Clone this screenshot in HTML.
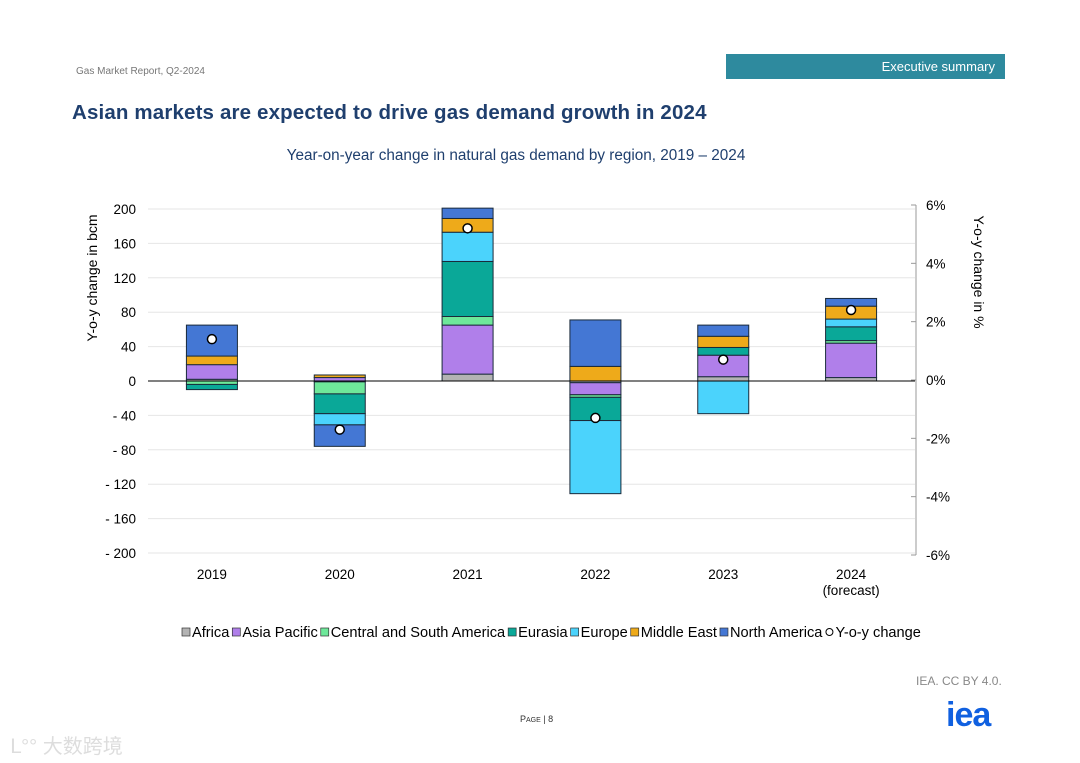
<!DOCTYPE html>
<html><head><meta charset="utf-8"><style>
body{margin:0;width:1080px;height:763px;background:#fff;font-family:"Liberation Sans","Noto Sans CJK SC",sans-serif;position:relative;overflow:hidden}
.a{position:absolute}
</style></head><body>
<div class="a" style="left:76px;top:66px;font-size:10px;color:#777">Gas Market Report, Q2-2024</div>
<div class="a" style="left:726px;top:54px;width:279px;height:25px;background:#2e8a9e;color:#fff;font-size:13px;line-height:25px;text-align:right;box-sizing:border-box;padding-right:10px">Executive summary</div>
<div class="a" style="left:72px;top:101px;font-size:20.5px;font-weight:bold;color:#1f3f6e;letter-spacing:0.15px">Asian markets are expected to drive gas demand growth in 2024</div>
<div class="a" style="left:0;width:1032px;top:147px;text-align:center;font-size:15.3px;color:#1f3f6e">Year-on-year change in natural gas demand by region, 2019 – 2024</div>
<svg class="a" id="chart" style="left:0;top:0" width="1080" height="763"></svg>
<div class="a" style="left:916px;top:674px;font-size:12px;color:#888">IEA. CC BY 4.0.</div>
<div class="a" style="left:520px;top:714px;font-size:9px;color:#333">P<span style="font-size:7px">AGE</span> | 8</div>
<div class="a" style="left:946px;top:696px;font-size:34px;font-weight:bold;color:#1060e0;letter-spacing:-1px">iea</div>
<div class="a" style="left:10px;top:730px;font-size:20px;color:#ddd">ᒪ°° 大数跨境</div>
<script>
const categories=["2019","2020","2021","2022","2023","2024"];
const series=["Africa","Asia Pacific","Central and South America","Eurasia","Europe","Middle East","North America"];
const colors=["#b3b3b3","#b07fea","#6ee89a","#0aa898","#4bd3fc","#eeaa1a","#4477d4"];
const africa=[2,-1,8,-2,5,4];
const asiaPacific=[17,4,57,-14,25,40];
const csAmerica=[-4,-14,10,-3,0,3];
const eurasia=[-6,-23,64,-27,9,16];
const europe=[0,-13,34,-85,-38,9];
const middleEast=[10,3,16,17,13,15];
const northAmerica=[36,-25,12,54,13,9];
const yoy=[1.4,-1.7,5.2,-1.3,0.7,2.4];
const leftTicks=[200,160,120,80,40,0,-40,-80,-120,-160,-200];
const rightTicks=[6,4,2,0,-2,-4,-6];
const data=[africa,asiaPacific,csAmerica,eurasia,europe,middleEast,northAmerica];
const svg=document.getElementById('chart');const NS='http://www.w3.org/2000/svg';
function mk(t,a,p){const e=document.createElementNS(NS,t);for(const k in a)e.setAttribute(k,a[k]);(p||svg).appendChild(e);return e;}
const x0=148,x1=915,y0=209,yb=554;
const Y=v=>381-(v/200)*(381-y0);
const Yr=v=>380-(v/6)*(380-205);
const X=i=>x0+(x1-x0)/categories.length*(i+0.5);
const bw=51;
leftTicks.forEach(t=>{const l=mk('line',{x1:x0,x2:x1,y1:Y(t),y2:Y(t),stroke:'#e6e6e6'});

const tx=mk('text',{x:136,y:Y(t)+5,'text-anchor':'end','font-size':13.5,fill:'#000'});tx.textContent=t<0?'- '+(-t):t;
});
mk('line',{x1:916,x2:916,y1:205,y2:555,stroke:'#999'});
rightTicks.forEach(t=>{mk('line',{x1:911,x2:916,y1:Yr(t),y2:Yr(t),stroke:'#999'});
const tx=mk('text',{x:926,y:Yr(t)+5,'font-size':13.5});tx.textContent=t+'%';
});
categories.forEach((c,i)=>{let pos=0,neg=0;
data.forEach((arr,s)=>{const v=arr[i];if(!v)return;let a,b;if(v>0){a=pos;pos+=v;b=pos;}else{a=neg;neg+=v;b=neg;}
const r=mk('rect',{x:X(i)-bw/2,y:Math.min(Y(a),Y(b)),width:bw,height:Math.abs(Y(a)-Y(b)),fill:colors[s],stroke:'#1a2a3a','stroke-width':1});
});
const d=mk('circle',{cx:X(i),cy:Yr(yoy[i]),r:4.5,fill:'#fff',stroke:'#000','stroke-width':1.5});

const t=mk('text',{x:X(i),y:579,'text-anchor':'middle','font-size':13.5});t.textContent=c;

if(i==5){const f=mk('text',{x:X(i),y:595,'text-anchor':'middle','font-size':13.5});f.textContent='(forecast)';}});
mk('line',{x1:x0,x2:x1,y1:Y(0),y2:Y(0),stroke:'#000'});
const yl=mk('text',{transform:'translate(97,278) rotate(-90)','text-anchor':'middle','font-size':14});yl.textContent='Y-o-y change in bcm';

const yr=mk('text',{transform:'translate(974,272) rotate(90)','text-anchor':'middle','font-size':14});yr.textContent='Y-o-y change in %';

let lx=182;
series.concat(['Y-o-y change']).forEach((s,k)=>{
if(k<7)mk('rect',{x:lx,y:628,width:8,height:8,fill:colors[k],stroke:'#333','stroke-width':0.7});else mk('circle',{cx:lx+4,cy:632,r:3.5,fill:'#fff',stroke:'#000'});
const t=mk('text',{x:lx+10,y:637,'font-size':14.6});t.textContent=s;

lx+=10+t.getComputedTextLength()+3;});
</script>
</body></html>
